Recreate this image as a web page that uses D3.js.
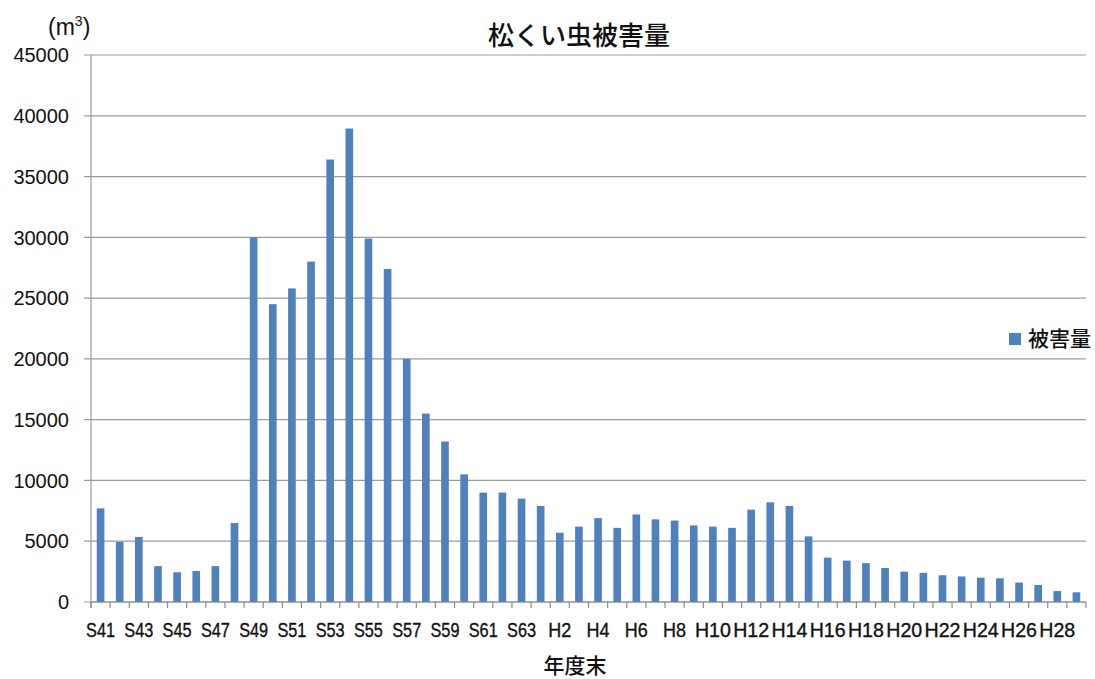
<!DOCTYPE html>
<html>
<head>
<meta charset="utf-8">
<script src="https://cdn.jsdelivr.net/npm/d3@7"></script>
<style>
  html, body { margin: 0; padding: 0; background: #fff; }
  svg { display: block; }
  text { font-family: "Liberation Sans", Arial, "Noto Sans CJK JP", sans-serif; fill: #111; }
  .jp { font-family: "Noto Sans CJK JP", "Liberation Sans", sans-serif; font-weight: 500; }
  .tick-x { stroke: #111; stroke-width: 0.35px; }
</style>
</head>
<body>
<svg id="chart" width="1095" height="679"></svg>
<script>
// Fiscal years (Showa 41 – Heisei 29)
const years = [
  "S41","S42","S43","S44","S45","S46","S47","S48","S49","S50",
  "S51","S52","S53","S54","S55","S56","S57","S58","S59","S60",
  "S61","S62","S63","H1","H2","H3","H4","H5","H6","H7",
  "H8","H9","H10","H11","H12","H13","H14","H15","H16","H17",
  "H18","H19","H20","H21","H22","H23","H24","H25","H26","H27",
  "H28","H29"
];

// Pine wilt damage volume (m3) per year
const damage = [
  7700, 4950, 5350, 2950, 2450, 2550, 2950, 6500, 30000, 24500,
  25800, 28000, 36400, 38950, 29900, 27400, 20000, 15500, 13200, 10500,
  9000, 9000, 8500, 7900, 5700, 6200, 6900, 6100, 7200, 6800,
  6700, 6300, 6200, 6100, 7600, 8200, 7900, 5400, 3650, 3400,
  3200, 2800, 2500, 2400, 2200, 2100, 2000, 1950, 1600, 1400,
  900, 800
];

const yTicks = [0, 5000, 10000, 15000, 20000, 25000, 30000, 35000, 40000, 45000];

const titleText = "松くい虫被害量";
const seriesName = "被害量";
const xTitle = "年度末";

const svg = d3.select("#chart");
const plotL = 91, plotR = 1086, plotT = 55, plotB = 602;

const x = d3.scaleBand().domain(years).range([plotL, plotR]).paddingInner(0.6).paddingOuter(0.3);
const xEdge = d3.scaleLinear().domain([0, years.length]).range([plotL, plotR]);
const y = d3.scaleLinear().domain([0, 45000]).range([plotB, plotT]);

// horizontal gridlines + y tick stubs
svg.append("g").selectAll("line").data(yTicks).join("line")
  .attr("x1", plotL - 7).attr("x2", plotR)
  .attr("y1", d => y(d)).attr("y2", d => y(d))
  .attr("stroke", "#9c9c9c").attr("stroke-width", 1.2);

// y axis line
svg.append("line")
  .attr("x1", plotL).attr("x2", plotL)
  .attr("y1", plotT).attr("y2", plotB + 6)
  .attr("stroke", "#9c9c9c").attr("stroke-width", 1.2);

// y tick labels
svg.append("g").selectAll("text").data(yTicks).join("text")
  .attr("x", 69).attr("y", d => y(d))
  .attr("dy", "0.36em")
  .attr("text-anchor", "end")
  .attr("font-size", 20)
  .text(d => d);

// bars
svg.append("g").selectAll("rect").data(years).join("rect")
  .attr("x", d => x(d))
  .attr("width", x.bandwidth())
  .attr("y", (d, i) => y(damage[i]))
  .attr("height", (d, i) => y(0) - y(damage[i]))
  .attr("fill", "#4f81bd");

// x axis baseline and tick marks at category boundaries
svg.append("line")
  .attr("x1", plotL).attr("x2", plotR)
  .attr("y1", plotB).attr("y2", plotB)
  .attr("stroke", "#8c8c8c").attr("stroke-width", 1.2);
svg.append("g").selectAll("line").data(d3.range(years.length + 1)).join("line")
  .attr("x1", d => xEdge(d)).attr("x2", d => xEdge(d))
  .attr("y1", plotB).attr("y2", plotB + 6)
  .attr("stroke", "#8c8c8c").attr("stroke-width", 1.2);

// x tick labels every other year, in a condensed face
const labelWidth = d => d[0] === "S" ? 29 : (d.length === 2 ? 23 : 36);
svg.append("g").selectAll("text").data(years.filter((d, i) => i % 2 === 0)).join("text")
  .attr("class", "tick-x")
  .attr("x", d => x(d) + x.bandwidth() / 2)
  .attr("y", 637)
  .attr("text-anchor", "middle")
  .attr("font-size", 20)
  .attr("textLength", labelWidth)
  .attr("lengthAdjust", "spacingAndGlyphs")
  .text(d => d);

// title
svg.append("text").attr("class", "jp")
  .attr("x", 579).attr("y", 45)
  .attr("text-anchor", "middle")
  .attr("font-size", 26)
  .text(titleText);

// unit label
const unit = svg.append("text").attr("x", 48).attr("y", 35).attr("font-size", 23);
unit.append("tspan").text("(m");
unit.append("tspan").attr("font-size", 14).attr("dy", -9).text("3");
unit.append("tspan").attr("dy", 9).text(")");

// x axis title
svg.append("text").attr("class", "jp")
  .attr("x", 575).attr("y", 673)
  .attr("text-anchor", "middle")
  .attr("font-size", 21)
  .text(xTitle);

// legend
svg.append("rect").attr("x", 1009).attr("y", 333).attr("width", 12).attr("height", 12).attr("fill", "#4f81bd");
svg.append("text").attr("class", "jp")
  .attr("x", 1028).attr("y", 346)
  .attr("font-size", 21)
  .text(seriesName);
</script>
</body>
</html>
